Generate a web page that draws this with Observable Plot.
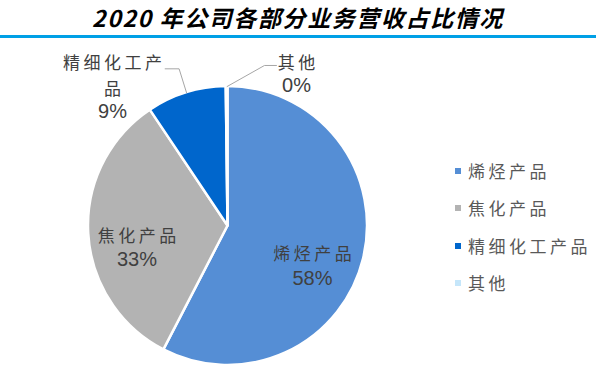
<!DOCTYPE html>
<html><head><meta charset="utf-8">
<script src="https://cdn.jsdelivr.net/npm/d3@7"></script>
<script src="https://cdn.jsdelivr.net/npm/@observablehq/plot@0.6"></script>
<style>
body{margin:0;background:#fff}
#wrap{position:relative;width:596px;height:382px;overflow:hidden;background:#fff}
#title{position:absolute;left:0;top:0;width:596px;height:35px;text-align:center;font-family:"Noto Sans CJK SC",sans-serif;font-style:italic;font-weight:bold;font-size:23px;line-height:34px;letter-spacing:1.6px;color:#000}
#rule{position:absolute;left:0;top:35px;width:596px;height:3px;background:#00a0e6}
#chart{position:absolute;left:0;top:40px}
#legend{position:absolute;left:455px;top:0;width:141px;height:382px}
.sw{position:absolute;left:0;width:6px;height:6px}
.lt{position:absolute;left:13px;height:20px;line-height:20px;white-space:nowrap;font-family:"Noto Sans CJK SC",sans-serif;font-size:17px;letter-spacing:3.5px;color:#595959}
svg g[font-size="17"]{letter-spacing:3.5px}
</style>
</head><body>
<div id="wrap">
  <div id="title">2020 年公司各部分业务营收占比情况</div>
  <div id="rule"></div>
  <div id="chart"></div>
  <div id="legend"></div>
</div>
<script>
// ---- data ----
const categories = ["烯烃产品", "焦化产品", "精细化工产品", "其他"];
const shares = [57.6, 33.0, 9.2, 0.2];
const pieLabelNames = ["烯烃产品", "焦化产品", "精细化工产\n品", "其他"];
const colors = ["#558ed5", "#b3b3b3", "#0066cc", "#c5e6fa"];

// ---- layout (pixels) ----
const W = 596, H = 342;
const CX = 227.5, CY = 185.5, R = 139.5;

const data = categories.map((c, i) => ({name: c, label: pieLabelNames[i], value: shares[i], color: colors[i]}));
const arcs = d3.pie().sort(null).value(d => d.value)(data);
const deg = Math.PI / 180;
const mid = a => (a.startAngle + a.endAngle) / 2;
const polar = (ang, r) => ({x: r * Math.sin(ang), y: r * Math.cos(ang)});

// label block placement relative to each slice (angle offset in degrees, radius in pie radii, pixel dy for name/value)
const labelLayout = [
  {off: 11.1, r: 0.667, nameDy: -13.5, valDy: 13.5},
  {off: -9.46, r: 0.669, nameDy: -13, valDy: 13},
  {off: -22.34, r: 1.298, nameDy: -13, valDy: 25},
  {off: 24.48, r: 1.2017, nameDy: -12.5, valDy: 12.5}
];
const names = [], vals = [];
arcs.forEach((a, i) => {
  const L = labelLayout[i];
  const p = polar(mid(a) + L.off * deg, L.r);
  names.push({x: p.x, y: p.y - L.nameDy / R, text: a.data.label});
  vals.push({x: p.x, y: p.y - L.valDy / R, text: Math.round(a.data.value) + "%"});
});

// leader lines for outside labels
const leaderLayout = {2: {off: 0, r: 1.18, dx: -0.1}, 3: {off: 13.16, r: 1.18, dx: 0.086}};
const leaders = [];
Object.entries(leaderLayout).forEach(([i, L]) => {
  const a = arcs[+i];
  const p0 = polar(mid(a), 1);
  const p1 = polar(mid(a) + L.off * deg, L.r);
  leaders.push({k: i, x: p0.x, y: p0.y}, {k: i, x: p1.x, y: p1.y}, {k: i, x: p1.x + L.dx, y: p1.y});
});

const pieMark = (index, scales) => {
  const cx = scales.x(0), cy = scales.y(0), r = scales.x(1) - scales.x(0);
  const arc = d3.arc().innerRadius(0).outerRadius(r);
  const g = d3.create("svg:g").attr("transform", `translate(${cx},${cy})`);
  g.selectAll("path").data(arcs).join("path")
    .attr("d", arc)
    .attr("fill", d => d.data.color)
    .attr("stroke", "#fff")
    .attr("stroke-width", 2.5)
    .attr("stroke-linejoin", "round");
  return g.node();
};

const chart = Plot.plot({
  width: W, height: H, margin: 0,
  x: {domain: [-CX / R, (W - CX) / R], axis: null},
  y: {domain: [-(H - CY) / R, CY / R], axis: null},
  marks: [
    pieMark,
    Plot.line(leaders, {x: "x", y: "y", z: "k", stroke: "#a6a6a6", strokeWidth: 1}),
    Plot.text(names, {x: "x", y: "y", text: "text", fontFamily: "Noto Sans CJK SC", fontSize: 17, fill: "#404040", lineHeight: 1.53, dx: 1.75}),
    Plot.text(vals, {x: "x", y: "y", text: "text", fontFamily: "Liberation Sans, Arial, sans-serif", fontSize: 20, fill: "#404040"})
  ]
});
document.getElementById("chart").appendChild(chart);

// legend
const legend = d3.select("#legend");
categories.forEach((c, i) => {
  const cy = 171 + i * 37.4;
  legend.append("div").attr("class", "sw").style("top", (cy - 3) + "px").style("background", colors[i]);
  legend.append("div").attr("class", "lt").style("top", (cy - 10) + "px").text(c);
});
</script>
</body></html>
